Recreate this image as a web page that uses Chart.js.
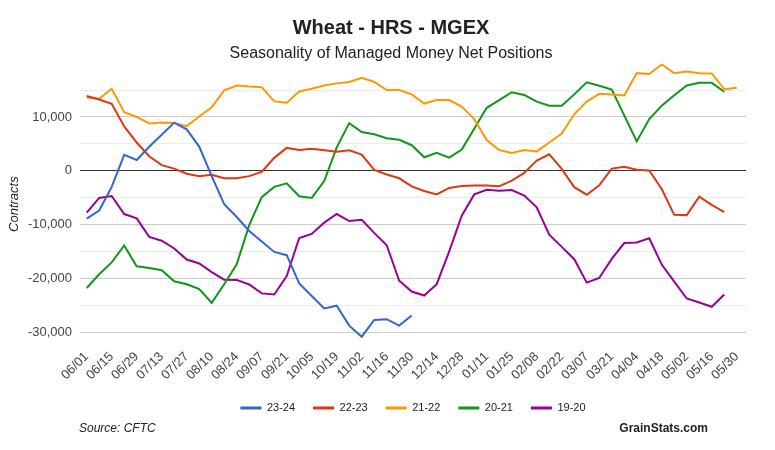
<!DOCTYPE html>
<html>
<head>
<meta charset="utf-8">
<title>Wheat - HRS - MGEX</title>
<script src="https://cdn.jsdelivr.net/npm/chart.js@4.4.1/dist/chart.umd.min.js"></script>
<style>
  body { margin: 0; background: #fff; }
  #wrap { width: 775px; height: 450px; }
</style>
</head>
<body>
<div id="wrap"><canvas id="seasonChart" width="775" height="450"></canvas></div>
<script>
// week labels shown on the x axis (every 2nd week)
const tickLabels = ['06/01', '06/15', '06/29', '07/13', '07/27', '08/10', '08/24', '09/07', '09/21',
  '10/05', '10/19', '11/02', '11/16', '11/30', '12/14', '12/28', '01/11', '01/25', '02/08',
  '02/22', '03/07', '03/21', '04/04', '04/18', '05/02', '05/16', '05/30'];

const seasons = ['23-24', '22-23', '21-22', '20-21', '19-20'];

// weekly net positions, week 0 = 06/01
const s2324 = [-8900, -7400, -3000, 2950, 2000, 4450, 6700, 8950, 7700, 4500,
  -1000, -6200, -8600, -11200, -13150, -15100, -15700, -20950, -23300, -25600,
  -25100, -28800, -30850, -27750, -27600, -28800, -26900];

const s2223 = [13900, 13250, 12450, 8250, 5250, 2700, 1050, 400, -550, -1000,
  -750, -1400, -1400, -1000, -200, 2400, 4250, 3850, 4100, 3800,
  3550, 3800, 3000, 150, -700, -1400, -2900, -3750, -4400, -3200,
  -2850, -2750, -2750, -2900, -1850, -400, 1900, 3050, 350, -3050,
  -4450, -2700, 400, 750, 200, 50, -3400, -8200, -8250, -4800,
  -6350, -7700];

const s2122 = [13600, 13400, 15250, 10900, 10000, 8800, 8950, 8900, 8300, 10100,
  11800, 14950, 15850, 15650, 15550, 12900, 12650, 14750, 15250, 15850,
  16250, 16500, 17300, 16500, 15000, 15000, 14200, 12500, 13150, 13150,
  11950, 9600, 5700, 3850, 3300, 3850, 3600, 5250, 6900, 10500,
  12850, 14300, 14200, 14000, 18150, 18000, 19750, 18150, 18450, 18150,
  18100, 15150, 15450];

const s2021 = [-21800, -19250, -17050, -13900, -17750, -18100, -18500, -20550, -21100, -22000,
  -24550, -21100, -17400, -10100, -4900, -3000, -2350, -4750, -5050, -1900,
  4350, 8850, 7200, 6800, 6050, 5750, 4750, 2500, 3350, 2450,
  3950, 7800, 11700, 13150, 14600, 14100, 12850, 12100, 12100, 14200,
  16450, 15800, 15100, 10300, 5450, 9600, 12100, 14050, 15850, 16350,
  16350, 14700];

const s1920 = [-7800, -5050, -4700, -8050, -8850, -12300, -13000, -14450, -16500, -17250,
  -18850, -20250, -20300, -21150, -22800, -23000, -19600, -12500, -11750, -9650,
  -8050, -9350, -9100, -11550, -13850, -20450, -22450, -23200, -21100, -15000,
  -8350, -4400, -3550, -3700, -3600, -4600, -6800, -11900, -14150, -16450,
  -20800, -19950, -16400, -13450, -13350, -12550, -17450, -20600, -23750, -24500,
  -25300, -23000];

const colors = ['#3366cc', '#dc3912', '#ff9900', '#109618', '#990099'];
const series = [s2324, s2223, s2122, s2021, s1920];

const FONT = 'Arial, "Liberation Sans", sans-serif';
Chart.defaults.font.family = FONT;

const datasets = series.map((vals, k) => ({
  label: seasons[k],
  data: vals.map((v, i) => ({ x: i, y: v })),
  borderColor: colors[k],
  backgroundColor: colors[k],
  borderWidth: 2,
  pointRadius: 0,
  tension: 0,
}));

//Footer texts
const footerText = {
  id: 'footerText',
  afterDraw(chart) {
    const ctx = chart.ctx;
    ctx.save();
    ctx.fillStyle = '#222';
    ctx.textBaseline = 'middle';
    ctx.font = `italic 12px ${FONT}`;
    ctx.textAlign = 'left';
    ctx.fillText('Source: CFTC', 79, 429);
    ctx.font = `bold 12px ${FONT}`;
    ctx.textAlign = 'right';
    ctx.fillText('GrainStats.com', 708, 429);
    ctx.restore();
  },
};

const config = {
  type: 'line',
  data: { datasets: datasets },
  options: {
    responsive: false,
    animation: false,
    devicePixelRatio: 1,
    layout: { padding: { left: 7, right: 0, top: 0, bottom: 26.5 } },
    plugins: {
      tooltip: { enabled: false },
      title: {
        display: true,
        text: 'Wheat - HRS - MGEX',
        color: '#222',
        font: { size: 20, weight: 'bold' },
        padding: { top: 16, bottom: 0 },
      },
      subtitle: {
        display: true,
        text: 'Seasonality of Managed Money Net Positions',
        color: '#222',
        font: { size: 16 },
        padding: { top: 4, bottom: 0 },
      },
      legend: {
        position: 'bottom',
        fullSize: false,
        labels: {
          color: '#222',
          font: { size: 11 },
          boxWidth: 21,
          boxHeight: 3,
          padding: 18,
          generateLabels: (chart) =>
            Chart.defaults.plugins.legend.labels.generateLabels(chart).map((l) => ({
              ...l,
              lineWidth: 0,
            })),
        },
      },
    },
    scales: {
      x: {
        type: 'linear',
        min: -0.536,
        max: 52.74,
        grid: { display: false, drawTicks: false },
        border: { display: false },
        afterBuildTicks: (scale) => {
          scale.ticks = tickLabels.map((_, k) => ({ value: k * 2 }));
        },
        afterFit: (scale) => {
          scale.height = 39.5;
        },
        ticks: {
          autoSkip: false,
          minRotation: 45,
          maxRotation: 45,
          color: '#444',
          font: { size: 13 },
          padding: 4,
          callback: (v) => tickLabels[Math.round(v / 2)],
        },
      },
      y: {
        min: -32400,
        max: 20000,
        afterBuildTicks: (scale) => {
          const t = [];
          for (let v = -30000; v <= 15000; v += 5000) t.push({ value: v });
          scale.ticks = t;
        },
        afterFit: (scale) => {
          scale.width = 73;
        },
        border: { display: false },
        grid: {
          drawTicks: false,
          color: (c) => {
            const v = c.tick ? c.tick.value : null;
            if (v === 0) return '#333333';
            if (v % 10000 === 0) return '#cccccc';
            return '#ebebeb';
          },
        },
        ticks: {
          color: '#444',
          font: { size: 13 },
          padding: 8,
          callback: (v) => (v % 10000 === 0 ? v.toLocaleString('en-US') : ''),
        },
        title: {
          display: true,
          text: 'Contracts',
          color: '#222',
          font: { size: 13, style: 'italic' },
          padding: 0,
        },
      },
      yR: {
        position: 'right',
        grid: { display: false },
        border: { display: false },
        ticks: { display: false },
        afterFit: (scale) => {
          scale.width = 29;
        },
      },
    },
  },
  plugins: [footerText],
};

const ctxSeason = document.getElementById('seasonChart');
try {
  const seasonChart = new Chart(ctxSeason, config);
} catch (e) {
  // eslint-disable-next-line no-console
  console.log(e);
}
</script>
</body>
</html>
